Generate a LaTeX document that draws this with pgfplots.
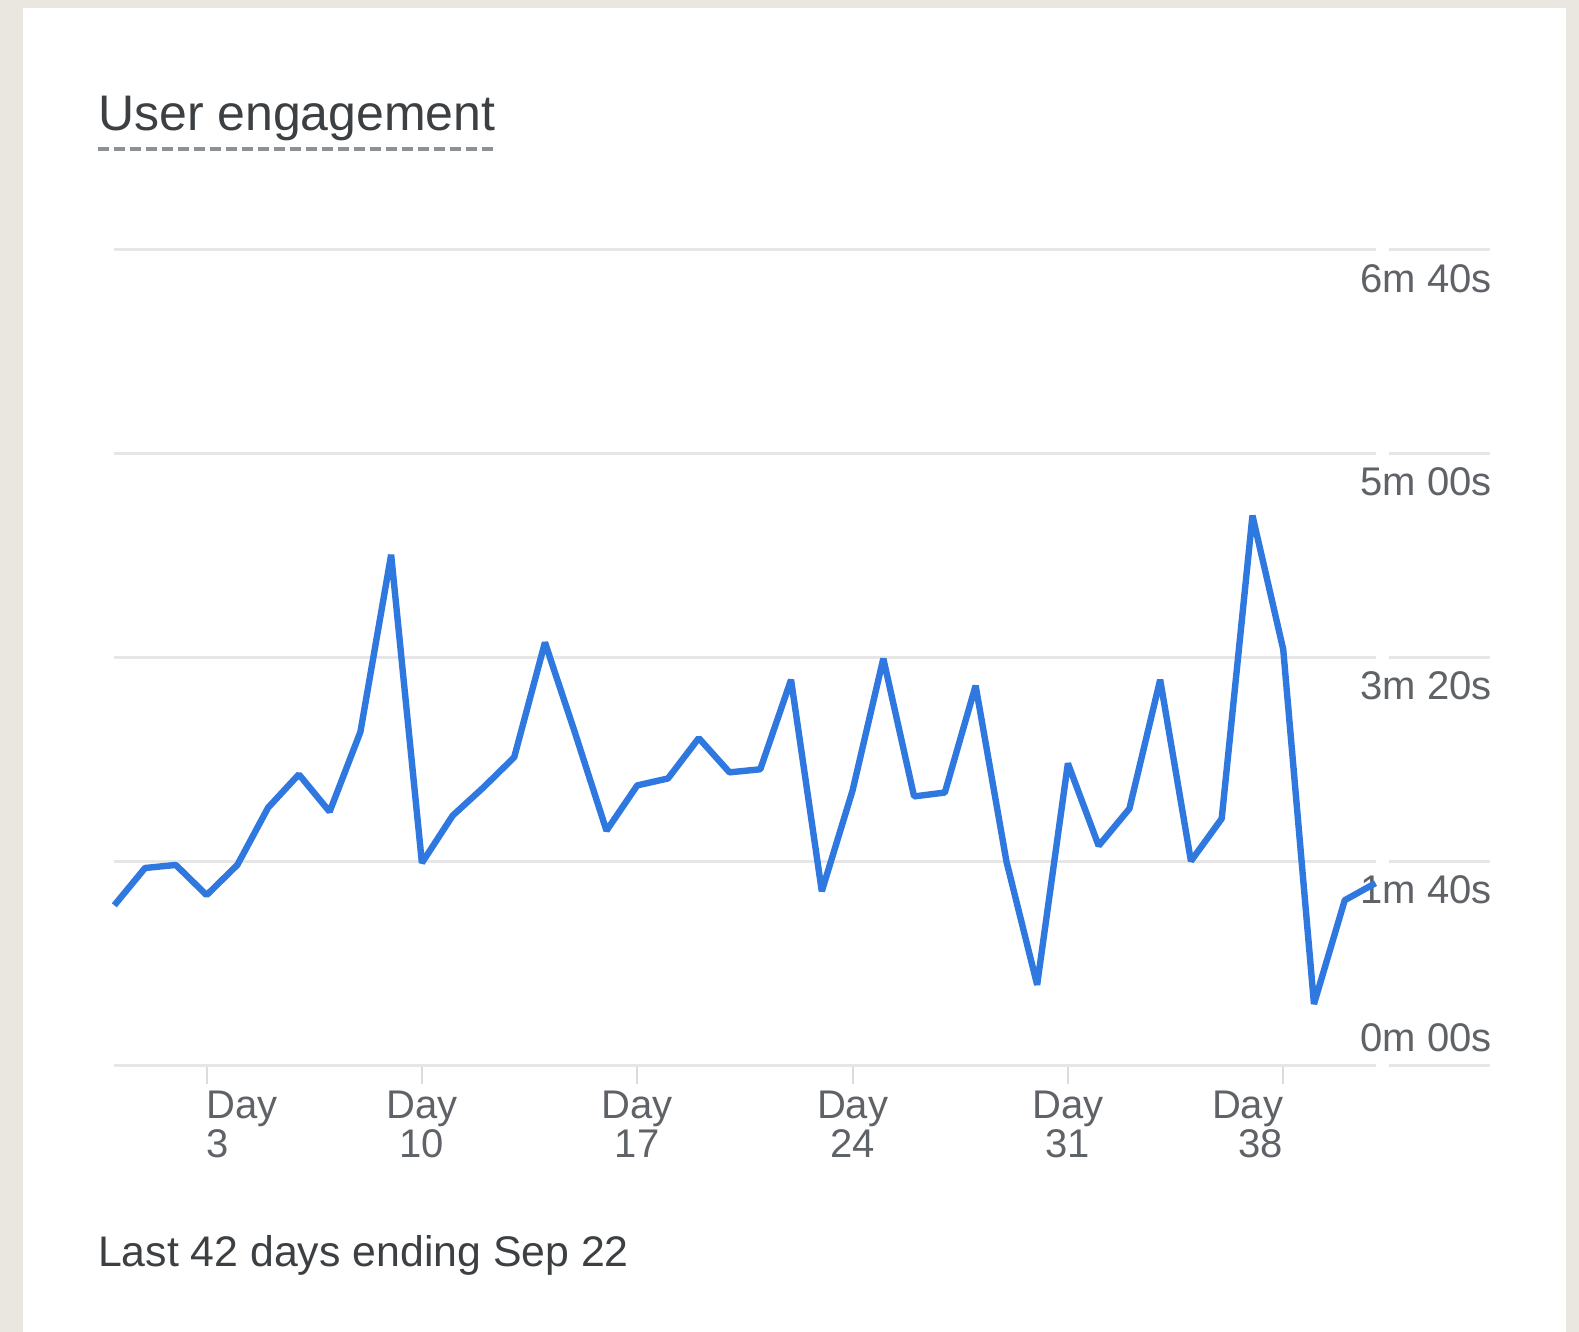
\documentclass[border=0pt]{standalone}
\usepackage{pgfplots}
\pgfplotsset{compat=1.18}
\usepackage{fontspec}
\setmainfont{Liberation Sans}
\definecolor{bg}{HTML}{EAE6E0}
\definecolor{gridc}{HTML}{E6E6E6}
\definecolor{tickc}{HTML}{DADCE0}
\definecolor{labc}{HTML}{5F6368}
\definecolor{titc}{HTML}{3C4043}
\definecolor{linec}{HTML}{2F78E0}
\definecolor{dashc}{HTML}{8C9196}
\begin{document}
\begin{tikzpicture}[x=1pt,y=1pt]
\fill[bg] (0,0) rectangle (789.5,666);
\fill[white] (11.5,0) rectangle (783,662);
\node[anchor=base west, inner sep=0, font=\fontsize{25}{30}\selectfont, text=titc] at (48.85,600.5) {User engagement};
\draw[dashc, line width=2pt, dash pattern=on 5.5pt off 2.5pt] (48.85,591.5) -- (247.7,591.5);
\node[anchor=base west, inner sep=0, font=\fontsize{21.4}{25}\selectfont, text=titc] at (48.85,32.5) {Last 42 days ending Sep 22};
\foreach \yy in {133.3,235.26,337.2,439.2,541.15}{
  \draw[gridc, line width=1.5pt] (694.5,\yy) -- (745,\yy);
}
\begin{axis}[
  at={(57.15pt,133.3pt)}, anchor=south west,
  scale only axis, width=630.6pt, height=407.85pt,
  xmin=0, xmax=41, ymin=0, ymax=400,
  axis line style={draw=none},
  ymajorgrids, grid style={gridc, line width=1.5pt},
  ytick={100,200,300,400},
  yticklabels={1m 40s,3m 20s,5m 00s,6m 40s},
  yticklabel pos=right,
  ytick style={draw=none},
  yticklabel style={anchor=north east, inner sep=0pt, xshift=48.9pt, yshift=-7pt, font=\fontsize{20}{20}\selectfont, text=labc},
  extra y ticks={0}, extra y tick labels={0m 00s},
  extra y tick style={grid=major, tick style={draw=none}, yticklabel style={anchor=south east, yshift=13.5pt}},
  xtick={3,10,17,24,31,38},
  xticklabels={{\rlap{Day}\\\rlap{3}},{Day\\10},{Day\\17},{Day\\24},{Day\\31},{\llap{Day}\\\llap{38}}},
  xtick pos=bottom,
  tick align=outside,
  xtick style={draw=tickc, line width=1pt},
  major tick length=9.5pt,
  xticklabel style={anchor=north, align=center, inner sep=0pt, font=\fontsize{20}{19.5}\selectfont, text=labc, yshift=-3.1pt},
  clip=false,
]
\addplot[linec, line width=3.2pt, line join=bevel] coordinates {
(0,78.5) (1,96.8) (2,98.3) (3,83.5) (4,98.3) (5,126.4) (6,142.7) (7,124.4)
(8,163.5) (9,250.4) (10,99.3) (11,122.5) (12,136.3) (13,151.1) (14,207.4)
(15,162.0) (16,115.1) (17,137.3) (18,140.7) (19,160.5) (20,143.7) (21,145.2)
(22,189.1) (23,85.4) (24,134.8) (25,199.5) (26,131.9) (27,133.8) (28,186.2)
(29,100.2) (30,39.5) (31,148.1) (32,107.7) (33,125.9) (34,189.1) (35,100.2)
(36,121.0) (37,269.6) (38,204.0) (39,30.1) (40,81.0) (41,89.4)
};
\end{axis}
\end{tikzpicture}
\end{document}
